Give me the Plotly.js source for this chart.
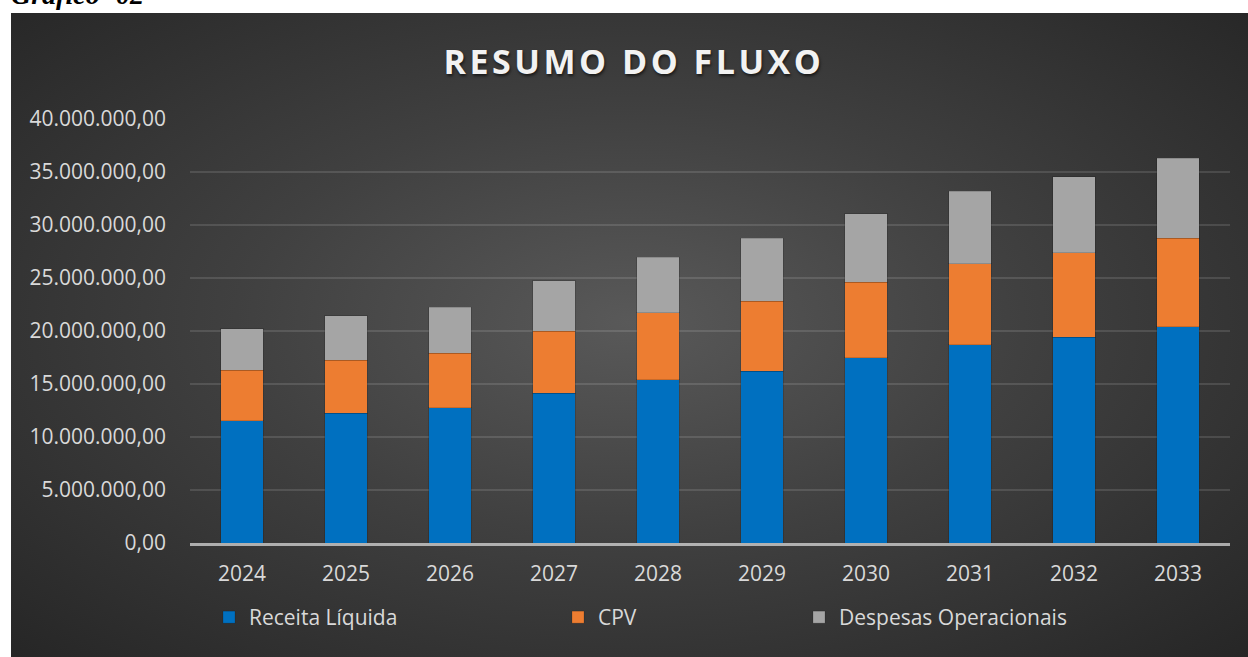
<!DOCTYPE html>
<html>
<head>
<meta charset="utf-8">
<script src="https://cdn.plot.ly/plotly-3.0.1.min.js"></script>
<style>
  html, body { margin: 0; padding: 0; background: #ffffff; width: 1248px; height: 657px; overflow: hidden; }
  #bg { position: absolute; left: 11px; top: 13px; width: 1237px; height: 644px;
        background: radial-gradient(ellipse farthest-corner at 50% 48%, #595959 0%, #404040 45%, #262626 100%); }
  #cap { position: absolute; left: 11px; top: -19px; font-family: "Liberation Serif", "Times New Roman", serif;
         font-weight: bold; font-style: italic; font-size: 28px; line-height: 28px; color: #000; white-space: nowrap; }
  #chart { position: absolute; left: 0; top: 0; width: 1248px; height: 657px; }
  .gtitle { letter-spacing: 3.5px; }
</style>
</head>
<body>
<div id="cap">Gráfico -02</div>
<div id="bg"></div>
<div id="chart"></div>
<script>
const years = ['2024','2025','2026','2027','2028','2029','2030','2031','2032','2033'];
const receitaLiquida = [11540000, 12230000, 12740000, 14120000, 15410000, 16200000, 17480000, 18680000, 19430000, 20380000];
const cpv = [4750000, 5000000, 5180000, 5850000, 6320000, 6600000, 7140000, 7670000, 7960000, 8360000];
const despesasOperacionais = [3930000, 4210000, 4340000, 4750000, 5220000, 5940000, 6420000, 6850000, 7140000, 7550000];
const seriesNames = ['Receita Líquida', 'CPV', 'Despesas Operacionais'];
const yTicks = [0, 5000000, 10000000, 15000000, 20000000, 25000000, 30000000, 35000000, 40000000];

const textColor = '#d9d9d9';
const font = 'Open Sans, Noto Sans, sans-serif';

const traces = [
  { type: 'bar', x: years, y: receitaLiquida, name: seriesNames[0], legend: 'legend',
    marker: { color: '#0070C0', line: { color: 'rgba(0,0,0,0.15)', width: 1 } } },
  { type: 'bar', x: years, y: cpv, name: seriesNames[1], legend: 'legend2',
    marker: { color: '#ED7D31', line: { color: 'rgba(0,0,0,0.15)', width: 1 } } },
  { type: 'bar', x: years, y: despesasOperacionais, name: seriesNames[2], legend: 'legend3',
    marker: { color: '#A5A5A5', line: { color: 'rgba(0,0,0,0.15)', width: 1 } } }
];

const legendBase = {
  orientation: 'h', xref: 'container', yref: 'container', xanchor: 'left', yanchor: 'middle',
  y: 1 - 617.5/657, bgcolor: 'rgba(0,0,0,0)', borderwidth: 0,
  font: { family: font, size: 21, color: textColor }, itemwidth: 30
};

const layout = {
  width: 1248, height: 657,
  margin: { l: 190, r: 18, t: 119, b: 114 },
  paper_bgcolor: 'rgba(0,0,0,0)', plot_bgcolor: 'rgba(0,0,0,0)',
  barmode: 'stack', bargap: 0.595,
  separators: ',.',
  hovermode: false,
  title: { text: 'RESUMO DO FLUXO', x: 0.508, xref: 'container', y: 1 - 62/657, yref: 'container',
           xanchor: 'center', yanchor: 'middle',
           font: { family: font, size: 34, weight: 700, color: '#f2f2f2', shadow: '1px 2px 3px rgba(0,0,0,0.6)' } },
  xaxis: { type: 'category', showgrid: false, showline: true, linecolor: 'rgba(255,255,255,0.6)', linewidth: 3,
           ticks: '', ticklabelstandoff: 10, tickfont: { family: font, size: 21, color: textColor } },
  yaxis: { range: [0, 40000000], tickvals: yTicks, tickformat: ',.2f', showgrid: true,
           gridcolor: 'rgba(255,255,255,0.12)', gridwidth: 1.5, zeroline: false, showline: false,
           ticks: '', ticklabelstandoff: 23, tickfont: { family: font, size: 21, color: textColor } },
  showlegend: true,
  legend: Object.assign({}, legendBase, { x: 209/1248 }),
  legend2: Object.assign({}, legendBase, { x: 558/1248 }),
  legend3: Object.assign({}, legendBase, { x: 799/1248 })
};

Plotly.newPlot('chart', traces, layout, { staticPlot: true, displayModeBar: false });
</script>
</body>
</html>
